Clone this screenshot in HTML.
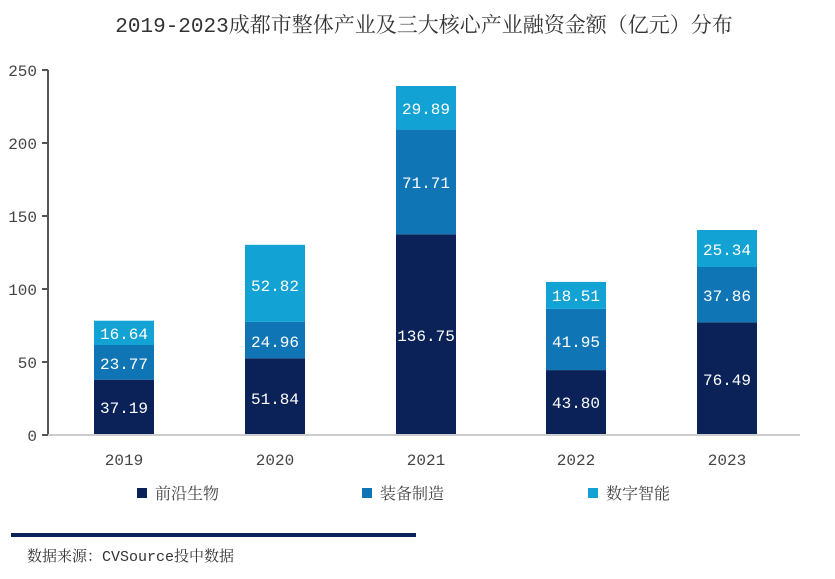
<!DOCTYPE html><html><head><style>body{margin:0;background:#fff}svg{display:block}text{font-family:"Liberation Mono","Noto Serif CJK SC",serif}</style></head><body>
<svg width="835" height="579" viewBox="0 0 835 579">
<text x="424" y="32" font-size="21" text-anchor="middle" fill="#333">2019-2023成都市整体产业及三大核心产业融资金额（亿元）分布</text>
<g stroke="#555" stroke-width="2"><line x1="48" y1="70" x2="48" y2="435"/><line x1="48" y1="435" x2="800" y2="435" stroke="#ccc"/>
<line x1="42" y1="70" x2="48" y2="70"/><line x1="42" y1="143" x2="48" y2="143"/><line x1="42" y1="216" x2="48" y2="216"/><line x1="42" y1="289" x2="48" y2="289"/><line x1="42" y1="362" x2="48" y2="362"/><line x1="42" y1="435" x2="48" y2="435"/></g>
<g font-size="16" fill="#444" text-anchor="end"><text x="37" y="76">250</text><text x="37" y="149">200</text><text x="37" y="222">150</text><text x="37" y="295">100</text><text x="37" y="368">50</text><text x="37" y="441">0</text></g>
<g font-size="16" fill="#444" text-anchor="middle"><text x="124" y="465">2019</text><text x="275" y="465">2020</text><text x="426" y="465">2021</text><text x="576" y="465">2022</text><text x="727" y="465">2023</text></g>
<g>
<rect x="94" y="379.7" width="60" height="54.3" fill="#0a2257"/><rect x="94" y="345" width="60" height="34.7" fill="#0f75b5"/><rect x="94" y="320.7" width="60" height="24.3" fill="#12a2d4"/>
<rect x="245" y="358.3" width="60" height="75.7" fill="#0a2257"/><rect x="245" y="321.9" width="60" height="36.4" fill="#0f75b5"/><rect x="245" y="244.8" width="60" height="77.1" fill="#12a2d4"/>
<rect x="396" y="234.3" width="60" height="199.7" fill="#0a2257"/><rect x="396" y="129.6" width="60" height="104.7" fill="#0f75b5"/><rect x="396" y="86" width="60" height="43.6" fill="#12a2d4"/>
<rect x="546" y="370.1" width="60" height="63.9" fill="#0a2257"/><rect x="546" y="308.9" width="60" height="61.2" fill="#0f75b5"/><rect x="546" y="281.9" width="60" height="27" fill="#12a2d4"/>
<rect x="697" y="322.3" width="60" height="111.7" fill="#0a2257"/><rect x="697" y="267" width="60" height="55.3" fill="#0f75b5"/><rect x="697" y="230" width="60" height="37" fill="#12a2d4"/>
</g>
<g font-size="16" fill="#fff" text-anchor="middle">
<text x="124" y="413">37.19</text><text x="124" y="369">23.77</text><text x="124" y="339">16.64</text>
<text x="275" y="404">51.84</text><text x="275" y="347">24.96</text><text x="275" y="291">52.82</text>
<text x="426" y="341">136.75</text><text x="426" y="188">71.71</text><text x="426" y="114">29.89</text>
<text x="576" y="408">43.80</text><text x="576" y="347">41.95</text><text x="576" y="301">18.51</text>
<text x="727" y="385">76.49</text><text x="727" y="301">37.86</text><text x="727" y="255">25.34</text>
</g>
<g font-size="16" fill="#444" font-family="Noto Serif CJK SC, serif">
<rect x="137" y="488" width="10" height="10" fill="#0a2257"/><text x="155" y="499">前沿生物</text>
<rect x="362" y="488" width="10" height="10" fill="#0f75b5"/><text x="380" y="499">装备制造</text>
<rect x="588" y="488" width="10" height="10" fill="#12a2d4"/><text x="606" y="499">数字智能</text>
</g>
<rect x="11" y="533" width="405" height="4" fill="#0a2257"/>
<text x="27" y="561" font-size="15" fill="#333">数据来源：CVSource投中数据</text>
</svg></body></html>
